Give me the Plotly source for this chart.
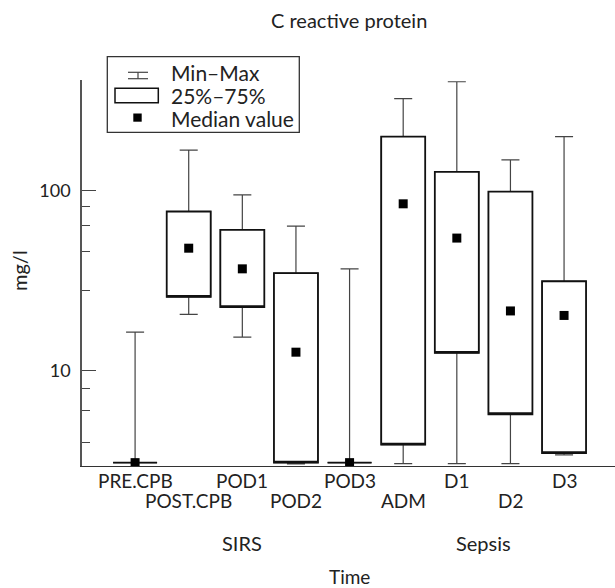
import math
import plotly.graph_objects as go

# ---------------- data ----------------
categories = ["PRE.CPB", "POST.CPB", "POD1", "POD2", "POD3", "ADM", "D1", "D2", "D3"]
mins    = [3.1, 20.6, 15.4, 3.05, 3.1, 3.06, 3.06, 3.06, 3.42]
q1      = [3.1, 25.7, 22.6, 3.1, 3.1, 3.9, 12.6, 5.75, 3.5]
medians = [3.1, 47.9, 36.8, 12.7, 3.1, 84.4, 54.5, 21.5, 20.3]
q3      = [3.1, 76.5, 60.5, 34.8, 3.1, 199.0, 127.0, 98.7, 31.4]
maxs    = [16.4, 167.5, 94.7, 63.5, 36.8, 323.0, 401.0, 148.0, 199.0]

label_row = [0, 1, 0, 1, 0, 1, 0, 1, 0]           # alternating label rows
groups = [("SIRS", 2), ("Sepsis", 6.5)]
y_major = [10, 100]
y_minor = [4, 6, 8, 28, 46, 64, 82]

FONT = "Lato"
TXT = "#222222"

# -------- geometry helpers (pixel -> paper) --------
L, R, T, B = 82, 615, 80, 466
def px(p):
    return (p - L) / (R - L)
def py(p):
    return (B - p) / (B - T)

fig = go.Figure()

# whiskers (min-max) - grey thin lines with caps
fig.add_trace(go.Box(
    x=categories, q1=q1, median=q1, q3=q3,
    lowerfence=mins, upperfence=maxs,
    boxpoints=False, width=0.82, whiskerwidth=0.41,
    line=dict(color="#444444", width=1.2),
    fillcolor="rgba(0,0,0,0)", showlegend=False, hoverinfo="skip",
))
# boxes (25%-75%)
fig.add_trace(go.Box(
    x=categories, q1=q1, median=q1, q3=q3,
    lowerfence=q1, upperfence=q3,
    boxpoints=False, width=0.82, whiskerwidth=0,
    line=dict(color="#111111", width=1.8),
    fillcolor="white", showlegend=False,
))
# medians
fig.add_trace(go.Scatter(
    x=categories, y=medians, mode="markers",
    marker=dict(symbol="square", size=9, color="black"),
    showlegend=False,
))

annotations = []
# category labels in two rows
for i, (c, r) in enumerate(zip(categories, label_row)):
    annotations.append(dict(
        x=i, xref="x", y=py(481 if r == 0 else 500), yref="paper",
        text=c, showarrow=False, xanchor="center", yanchor="middle",
        font=dict(family=FONT, size=19, color=TXT)))
for g, pos in groups:
    annotations.append(dict(
        x=pos, xref="x", y=py(543), yref="paper", text=g, showarrow=False,
        xanchor="center", yanchor="middle",
        font=dict(family=FONT, size=20, color=TXT)))
annotations.append(dict(x=4, xref="x", y=py(576), yref="paper", text="Time",
                        showarrow=False, xanchor="center", yanchor="middle",
                        font=dict(family=FONT, size=19, color=TXT)))
annotations.append(dict(x=px(19), xref="paper", y=py(271), yref="paper", text="mg/l",
                        textangle=-90, showarrow=False, xanchor="center", yanchor="middle",
                        font=dict(family=FONT, size=20, color=TXT)))
annotations.append(dict(x=px(349), xref="paper", y=py(20), yref="paper",
                        text="C reactive protein", showarrow=False,
                        xanchor="center", yanchor="middle",
                        font=dict(family=FONT, size=20, color=TXT)))
# legend texts
for txt, yy in [("Min\u2013Max", 72.5), ("25%\u201375%", 95), ("Median value", 118.5)]:
    annotations.append(dict(x=px(169), xref="paper", y=py(yy), yref="paper", text=txt,
                            showarrow=False, xanchor="left", yanchor="middle",
                            font=dict(family=FONT, size=21, color=TXT)))

shapes = [
    # legend frame
    dict(type="rect", xref="paper", yref="paper", x0=px(107.3), x1=px(299.3),
         y0=py(132.3), y1=py(56.7), line=dict(color="#333333", width=1.3),
         fillcolor="white", layer="above"),
    # I-beam glyph
    dict(type="line", xref="paper", yref="paper", x0=px(128), x1=px(148),
         y0=py(72.3), y1=py(72.3), line=dict(color="#444444", width=1.2)),
    dict(type="line", xref="paper", yref="paper", x0=px(128), x1=px(148),
         y0=py(78.7), y1=py(78.7), line=dict(color="#444444", width=1.2)),
    dict(type="line", xref="paper", yref="paper", x0=px(138), x1=px(138),
         y0=py(72.3), y1=py(78.7), line=dict(color="#444444", width=1.2)),
    # box glyph
    dict(type="rect", xref="paper", yref="paper", x0=px(115), x1=px(158.3),
         y0=py(102.7), y1=py(88.3), line=dict(color="#111111", width=1.5)),
    # median glyph
    dict(type="rect", xref="paper", yref="paper", x0=px(133.3), x1=px(141.7),
         y0=py(121.7), y1=py(113.5), line=dict(width=0), fillcolor="black"),
]

fig.update_layout(
    width=615, height=588,
    margin=dict(l=L, r=615 - R, t=T, b=588 - B),
    paper_bgcolor="white", plot_bgcolor="white",
    boxmode="overlay", showlegend=False,
    annotations=annotations, shapes=shapes,
    font=dict(family=FONT, color=TXT),
    xaxis=dict(type="category", range=[-0.99, 8.95], showline=True,
               linecolor="#333333", linewidth=1.3, ticks="", showticklabels=False,
               showgrid=False, zeroline=False, fixedrange=True),
    yaxis=dict(type="log", range=[math.log10(2.97), math.log10(410)],
               showline=True, linecolor="#555555", linewidth=1.5,
               ticks="inside", ticklen=14, tickwidth=1.2, tickcolor="#444444",
               tickmode="array", tickvals=y_major, ticktext=[str(v) for v in y_major],
               ticklabelstandoff=6,
               tickfont=dict(family=FONT, size=18, color=TXT),
               minor=dict(tickmode="array", tickvals=y_minor, ticks="inside",
                          ticklen=8, tickwidth=1.2, tickcolor="#444444"),
               showgrid=False, zeroline=False, fixedrange=True),
)

fig.write_html(
    "out.html",
    config={"displayModeBar": False},
    post_script="document.body.style.margin='0px';document.body.style.overflow='hidden';",
)
